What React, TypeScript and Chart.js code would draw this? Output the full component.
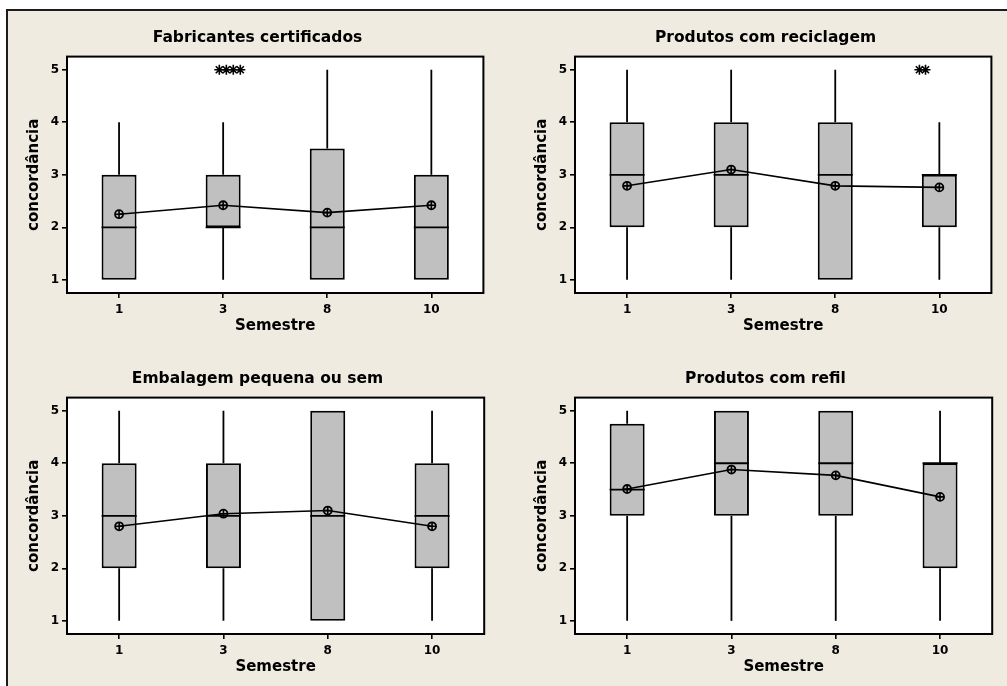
import React, { useEffect, useRef } from "react";
import { Chart, registerables } from "chart.js";

Chart.register(...registerables);

// ---------- data ----------
const semestres = ["1", "3", "8", "10"];
const yTickValues = [1, 2, 3, 4, 5];

// Fabricantes certificados
const fabLow = [1, 1, 1, 1];
const fabQ1 = [1, 2, 1, 1];
const fabMedian = [2, 2, 2, 2];
const fabQ3 = [3, 3, 3.5, 3];
const fabHigh = [4, 4, 5, 5];
const fabMean = [2.25, 2.42, 2.28, 2.42];
const fabOutlierX = [0.896, 0.972, 1.047, 1.123];
const fabOutlierY = [5, 5, 5, 5];

// Produtos com reciclagem
const recLow = [1, 1, 1, 1];
const recQ1 = [2, 2, 1, 2];
const recMedian = [3, 3, 3, 3];
const recQ3 = [4, 4, 4, 3];
const recHigh = [5, 5, 5, 4];
const recMean = [2.79, 3.1, 2.79, 2.76];
const recOutlierX = [2.972, 3.038];
const recOutlierY = [5, 5];

// Embalagem pequena ou sem
const embLow = [1, 1, 1, 1];
const embQ1 = [2, 2, 1, 2];
const embMedian = [3, 3, 3, 3];
const embQ3 = [4, 4, 5, 4];
const embHigh = [5, 5, 5, 5];
const embMean = [2.8, 3.04, 3.1, 2.8];

// Produtos com refil
const refLow = [1, 1, 1, 1];
const refQ1 = [3, 3, 3, 2];
const refMedian = [3.5, 4, 4, 4];
const refQ3 = [4.75, 5, 5, 4];
const refHigh = [5, 5, 5, 5];
const refMean = [3.51, 3.88, 3.77, 3.36];

// ---------- styling ----------
const FONT = "'DejaVu Sans', Verdana, sans-serif";
const font = (size: number) => ({ family: FONT, weight: "bold" as const, size });
const CANVAS_W = 465;
const CANVAS_H = 330;
const LINE_W = 1.8;

type PanelDef = {
  title: string;
  low: number[];
  q1: number[];
  median: number[];
  q3: number[];
  high: number[];
  mean: number[];
  outX: number[];
  outY: number[];
  left: number;
  top: number;
};

const panels: PanelDef[] = [
  { title: "Fabricantes certificados", low: fabLow, q1: fabQ1, median: fabMedian, q3: fabQ3, high: fabHigh, mean: fabMean, outX: fabOutlierX, outY: fabOutlierY, left: 25, top: 10 },
  { title: "Produtos com reciclagem", low: recLow, q1: recQ1, median: recMedian, q3: recQ3, high: recHigh, mean: recMean, outX: recOutlierX, outY: recOutlierY, left: 533, top: 10 },
  { title: "Embalagem pequena ou sem", low: embLow, q1: embQ1, median: embMedian, q3: embQ3, high: embHigh, mean: embMean, outX: [], outY: [], left: 25, top: 351 },
  { title: "Produtos com refil", low: refLow, q1: refQ1, median: refMedian, q3: refQ3, high: refHigh, mean: refMean, outX: [], outY: [], left: 533, top: 351 },
];

function makeChart(canvas: HTMLCanvasElement, p: PanelDef) {
  const boxPlugin = {
    id: "boxExtras",
    beforeDraw(chart: any) {
      const { ctx, chartArea: a } = chart;
      ctx.save();
      ctx.fillStyle = "#ffffff";
      ctx.fillRect(a.left, a.top, a.right - a.left, a.bottom - a.top);
      ctx.restore();
    },
    beforeDatasetsDraw(chart: any) {
      const { ctx } = chart;
      const ys = chart.scales.y;
      const meta = chart.getDatasetMeta(0);
      ctx.save();
      ctx.strokeStyle = "#000";
      ctx.lineWidth = LINE_W;
      meta.data.forEach((bar: any, i: number) => {
        const { x } = bar.getProps(["x"], true);
        ctx.beginPath();
        ctx.moveTo(x, ys.getPixelForValue(p.low[i]));
        ctx.lineTo(x, ys.getPixelForValue(p.q1[i]));
        ctx.moveTo(x, ys.getPixelForValue(p.q3[i]));
        ctx.lineTo(x, ys.getPixelForValue(p.high[i]));
        ctx.stroke();
      });
      ctx.restore();
    },
    afterDatasetDraw(chart: any, args: any) {
      if (args.index !== 0) return;
      const { ctx } = chart;
      const ys = chart.scales.y;
      ctx.save();
      ctx.strokeStyle = "#000";
      ctx.lineWidth = LINE_W;
      args.meta.data.forEach((bar: any, i: number) => {
        const { x, width } = bar.getProps(["x", "width"], true);
        const y = ys.getPixelForValue(p.median[i]);
        ctx.beginPath();
        ctx.moveTo(x - width / 2, y);
        ctx.lineTo(x + width / 2, y);
        ctx.stroke();
      });
      ctx.restore();
    },
    afterDatasetsDraw(chart: any) {
      const { ctx, chartArea: a } = chart;
      ctx.save();
      ctx.strokeStyle = "#000";
      ctx.lineWidth = 2;
      ctx.strokeRect(a.left, a.top, a.right - a.left, a.bottom - a.top);
      ctx.restore();
    },
  };

  return new Chart(canvas, {
    type: "bar",
    data: {
      labels: semestres,
      datasets: [
        {
          type: "bar",
          data: p.q1.map((v, i) => [v, p.q3[i]]),
          backgroundColor: "#C0C0C0",
          borderColor: "#000",
          borderWidth: 2,
          borderSkipped: false,
          grouped: false,
          maxBarThickness: 35,
          order: 3,
        } as any,
        {
          type: "line",
          data: p.mean,
          borderColor: "#000",
          borderWidth: 1.6,
          fill: false,
          tension: 0,
          pointStyle: "circle",
          pointRadius: 4,
          pointBorderWidth: 1.8,
          pointBorderColor: "#000",
          pointBackgroundColor: "rgba(0,0,0,0)",
          order: 1,
        },
        {
          type: "line",
          data: p.mean,
          showLine: false,
          borderColor: "#000",
          pointStyle: "cross",
          pointRadius: 4,
          pointBorderWidth: 1.6,
          pointBorderColor: "#000",
          order: 0,
        },
        {
          type: "scatter",
          data: p.outX.map((x, i) => ({ x, y: p.outY[i] })),
          xAxisID: "xo",
          borderColor: "#000",
          pointStyle: "star",
          pointRadius: 5,
          pointBorderWidth: 1.6,
          pointBorderColor: "#000",
          order: 0,
        } as any,
      ],
    },
    options: {
      responsive: false,
      animation: false,
      devicePixelRatio: 1,
      layout: { padding: { left: 0, right: 0, top: 0, bottom: 0 } },
      plugins: {
        legend: { display: false },
        tooltip: { enabled: false },
        title: {
          display: true,
          text: p.title,
          font: font(15.5),
          color: "#000",
          padding: { top: 19, bottom: 9 },
        },
      },
      scales: {
        x: {
          type: "category",
          offset: true,
          grid: { offset: false, drawOnChartArea: false, drawTicks: true, tickLength: 5, color: "#000", lineWidth: 1.6 },
          border: { display: false },
          ticks: { font: font(12), color: "#000", padding: 5, maxRotation: 0 },
          title: { display: true, text: "Semestre", font: font(15), color: "#000", padding: { top: 0, bottom: 5 } },
          afterFit: (s: any) => {
            s.height = 47;
          },
        },
        xo: { type: "linear", min: -0.5, max: 3.5, display: false },
        y: {
          type: "linear",
          min: 0.75,
          max: 5.25,
          afterBuildTicks: (s: any) => {
            s.ticks = yTickValues.map((v) => ({ value: v }));
          },
          grid: { drawOnChartArea: false, drawTicks: true, tickLength: 5, color: "#000", lineWidth: 1.6 },
          border: { display: false },
          ticks: { font: font(12), color: "#000", padding: 3 },
          title: { display: true, text: "concordância", font: font(15), color: "#000", padding: { top: 0, bottom: 0 } },
          afterFit: (s: any) => {
            s.width = 42;
          },
        },
      } as any,
    },
    plugins: [boxPlugin],
  } as any);
}

function Panel({ def }: { def: PanelDef }) {
  const ref = useRef<HTMLCanvasElement | null>(null);
  useEffect(() => {
    if (!ref.current) return;
    const chart = makeChart(ref.current, def);
    return () => chart.destroy();
  }, [def]);
  return (
    <canvas
      ref={ref}
      width={CANVAS_W}
      height={CANVAS_H}
      style={{ position: "absolute", left: def.left, top: def.top, width: CANVAS_W, height: CANVAS_H }}
    />
  );
}

export default function App() {
  return (
    <div
      style={{
        position: "fixed",
        left: 0,
        top: 0,
        width: 1007,
        height: 686,
        overflow: "hidden",
        background: "#ffffff",
      }}
    >
      <div
        style={{
          position: "absolute",
          left: 6,
          top: 9,
          width: 1100,
          height: 800,
          border: "2px solid #1c1c1c",
          background: "#EFEBE1",
        }}
      />
      {panels.map((p, i) => (
        <Panel key={i} def={p} />
      ))}
    </div>
  );
}
